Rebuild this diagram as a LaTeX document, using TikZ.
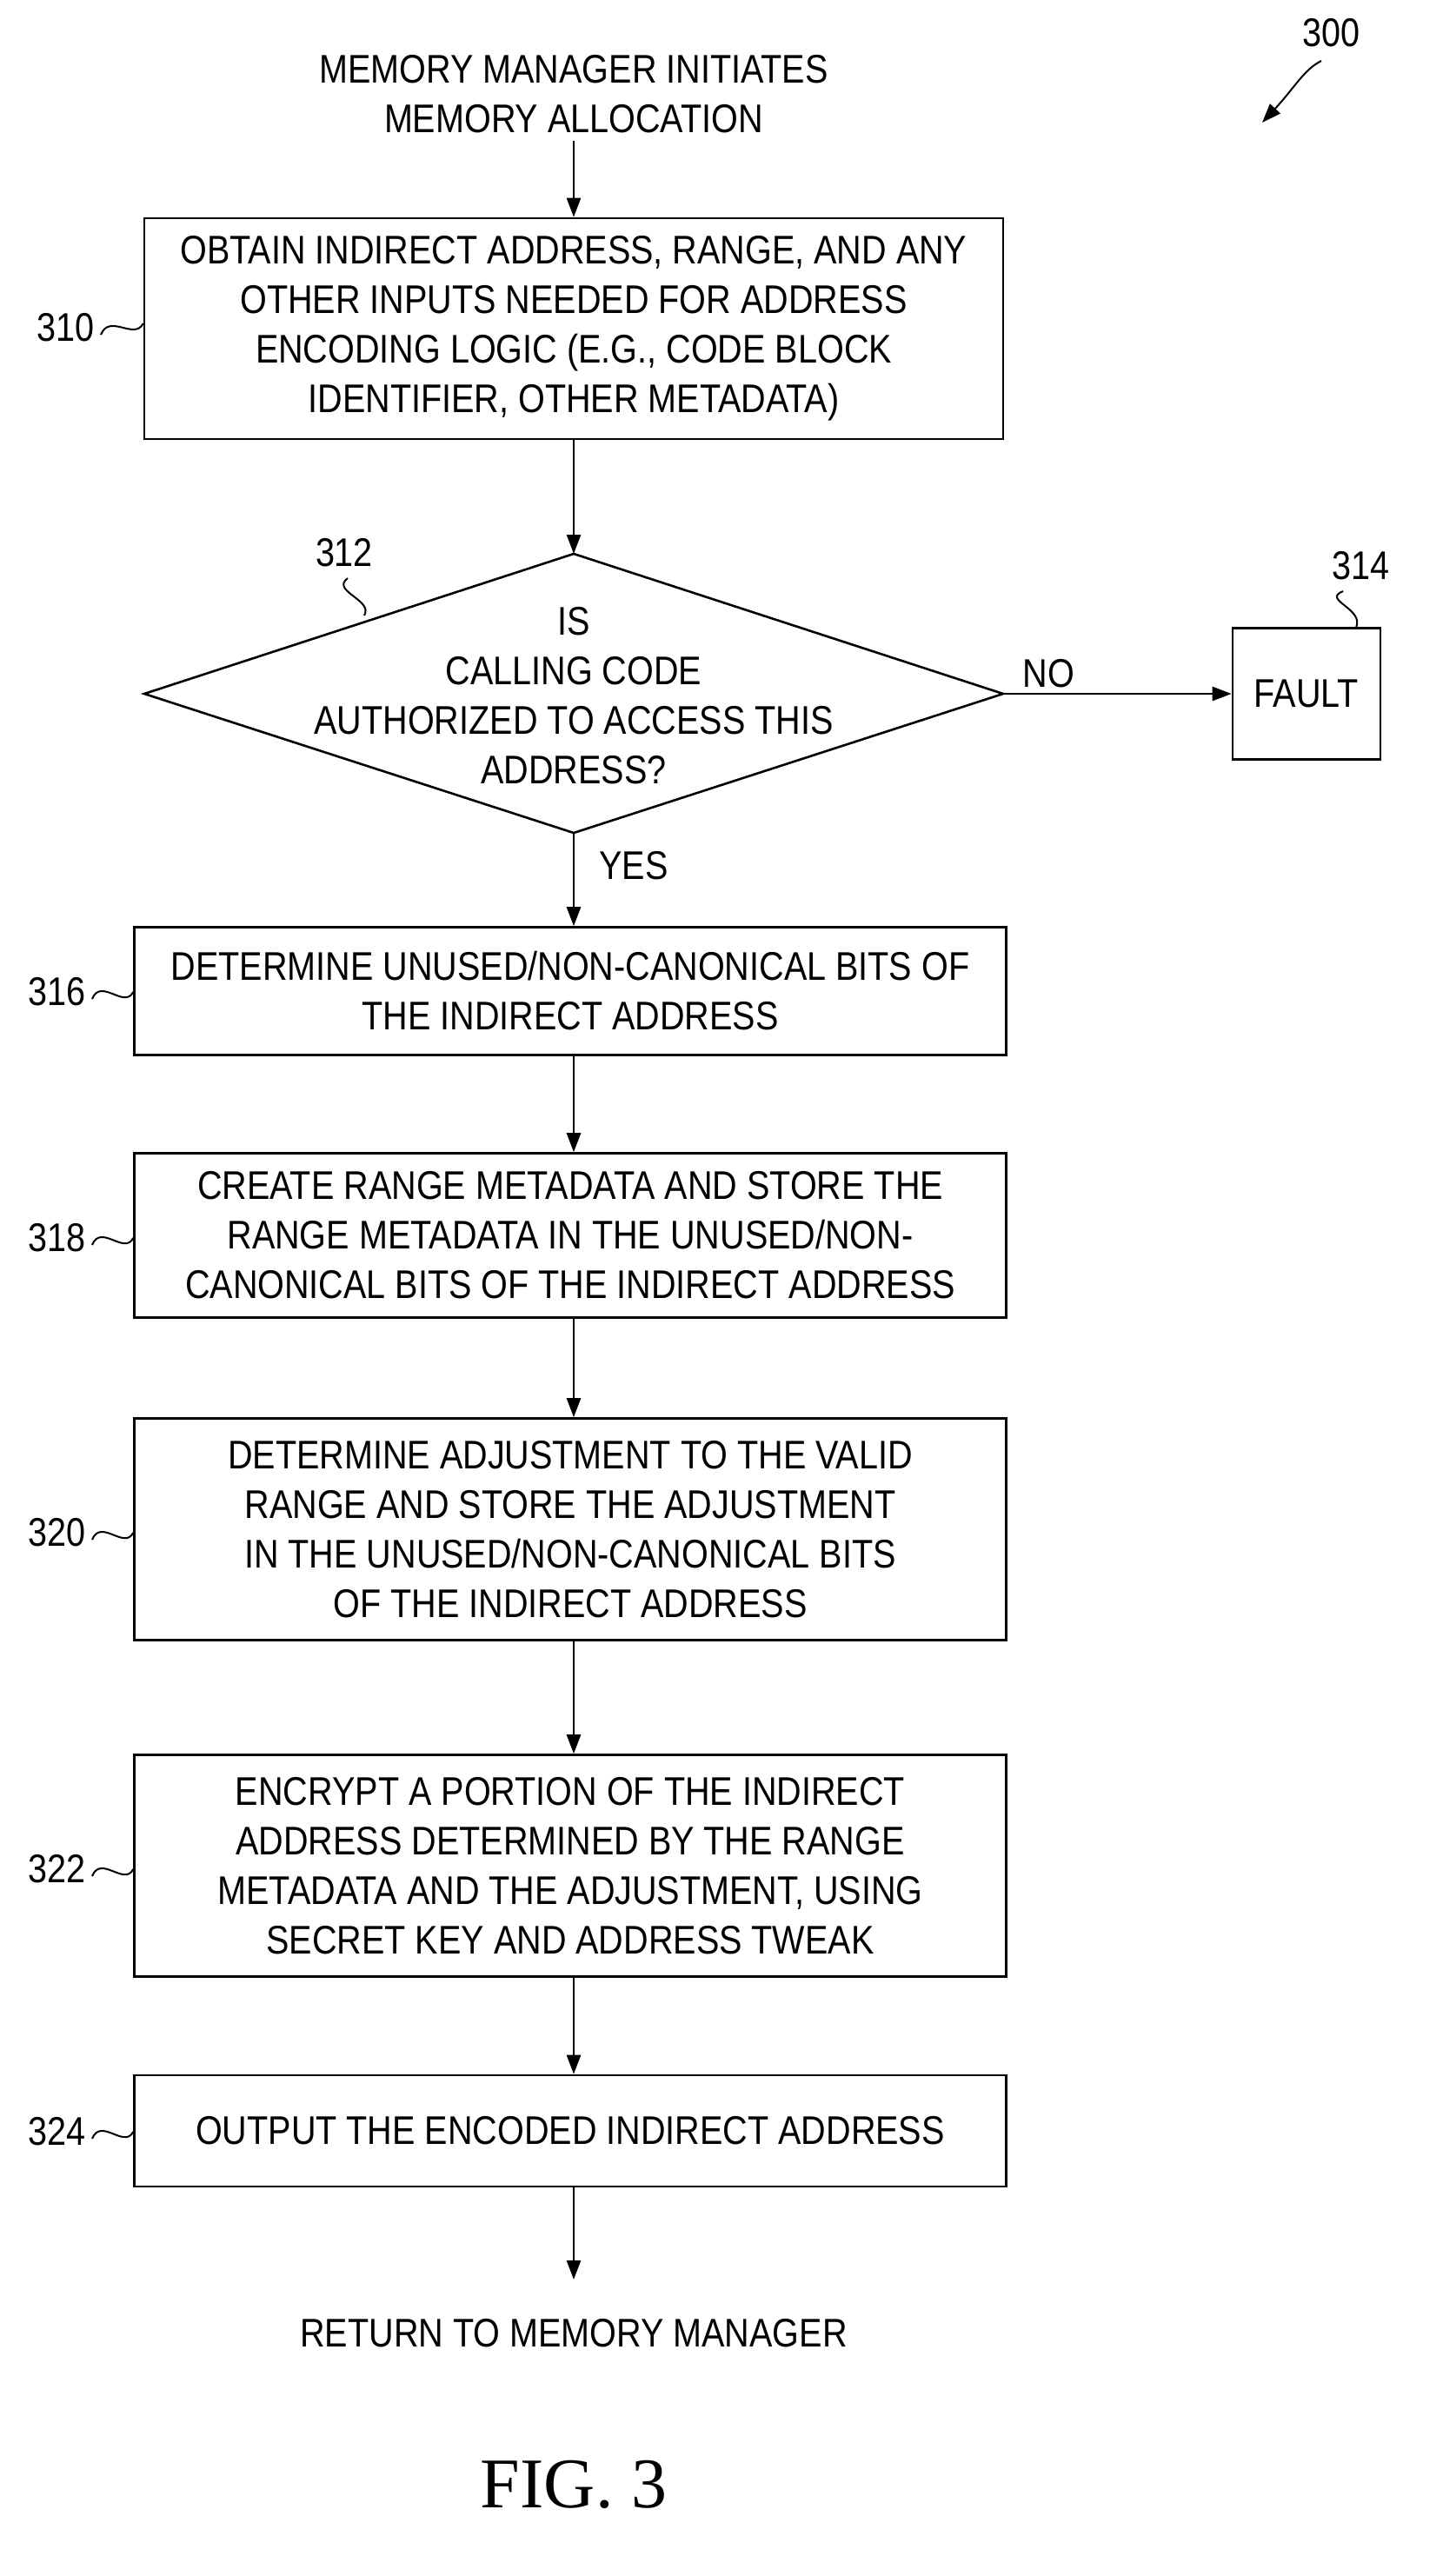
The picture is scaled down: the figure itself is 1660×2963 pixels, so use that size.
\documentclass[tikz,border=0pt]{standalone}
\usepackage{fontspec}
\setmainfont{Liberation Sans}[FakeStretch=0.86]
\newfontfamily\figfont{Liberation Serif}
\usetikzlibrary{arrows.meta}
\begin{document}
\begin{tikzpicture}[x=0.5pt,y=-0.5pt,line width=1.3pt,
  txt/.style={align=center,font=\fontsize{23}{28.5}\selectfont,inner sep=0pt},
  box/.style={draw,txt,minimum width=501.5pt},
  lbl/.style={font=\fontsize{23}{28}\selectfont,inner sep=0pt},
  arr/.style={-{Triangle[length=11pt,width=8pt]}},
  sq/.style={line width=1pt}]
\useasboundingbox (0,0) rectangle (1660,2963);
\node[txt] (start) at (660,108) {MEMORY MANAGER INITIATES\\MEMORY ALLOCATION};
\node[box,minimum width=494pt,minimum height=127pt] (b310) at (660,378) {OBTAIN INDIRECT ADDRESS, RANGE, AND ANY\\OTHER INPUTS NEEDED FOR ADDRESS\\ENCODING LOGIC (E.G., CODE BLOCK\\IDENTIFIER, OTHER METADATA)};
\coordinate (dT) at (660,637); \coordinate (dB) at (660,958);
\coordinate (dL) at (166,798); \coordinate (dR) at (1154,798);
\draw (dT) -- (dR) -- (dB) -- (dL) -- cycle;
\node[txt] (d312) at (660,800) {IS\\CALLING CODE\\AUTHORIZED TO ACCESS THIS\\ADDRESS?};
\node[box,minimum width=85pt,minimum height=75.5pt] (b314) at (1503,798) {FAULT};
\node[box,minimum height=73.5pt] (b316) at (656,1140) {DETERMINE UNUSED/NON-CANONICAL BITS OF\\THE INDIRECT ADDRESS};
\node[box,minimum height=94.5pt] (b318) at (656,1421) {CREATE RANGE METADATA AND STORE THE\\RANGE METADATA IN THE UNUSED/NON-\\CANONICAL BITS OF THE INDIRECT ADDRESS};
\node[box,minimum height=127.5pt] (b320) at (656,1759) {DETERMINE ADJUSTMENT TO THE VALID\\RANGE AND STORE THE ADJUSTMENT\\IN THE UNUSED/NON-CANONICAL BITS\\OF THE INDIRECT ADDRESS};
\node[box,minimum height=127.5pt] (b322) at (656,2146) {ENCRYPT A PORTION OF THE INDIRECT\\ADDRESS DETERMINED BY THE RANGE\\METADATA AND THE ADJUSTMENT, USING\\SECRET KEY AND ADDRESS TWEAK};
\node[box,minimum height=64pt] (b324) at (656,2451) {OUTPUT THE ENCODED INDIRECT ADDRESS};
\node[txt] (ret) at (660,2684) {RETURN TO MEMORY MANAGER};
\node[font=\figfont\fontsize{41}{46}\selectfont,inner sep=0pt] (fig) at (660,2858) {FIG. 3};
% arrows
\coordinate (a0) at (660,162);
\draw[arr] (a0) -- (b310.north -| a0);
\draw[arr] (b310.south -| dT) -- (dT);
\draw[arr] (dR) -- node[lbl,above,pos=0.2,yshift=3pt]{NO} (b314.west);
\draw[arr] (dB) -- node[lbl,right,pos=0.35,xshift=14pt]{YES} (b316.north -| dB);
\draw[arr] (b316.south -| dB) -- (b318.north -| dB);
\draw[arr] (b318.south -| dB) -- (b320.north -| dB);
\draw[arr] (b320.south -| dB) -- (b322.north -| dB);
\draw[arr] (b322.south -| dB) -- (b324.north -| dB);
\coordinate (rt) at (660,2622);
\draw[arr] (b324.south -| dB) -- (rt);
% reference labels
\node[lbl] (l300) at (1531,38) {300};
\coordinate (p300) at (1452,141);
\draw[arr,line width=1pt] (1520,70) .. controls (1500,80) and (1490,100) .. (p300);
\node[lbl,anchor=east] (l310) at (110,377) {310};
\draw[sq] (l310.east) ++(6,8) .. controls +(10,-25) and +(-10,20) .. (b310.west |- 0,372);
\foreach \n/\y/\b in {316/1141/b316,318/1424/b318,320/1763/b320,322/2150/b322,324/2452/b324}{
  \node[lbl,anchor=east] (l\n) at (100,\y) {\n};
  \draw[sq] (l\n.east) ++(6,8) .. controls +(10,-25) and +(-10,20) .. (\b.west |- 0,\y);
}
\node[lbl] (l312) at (396,636) {312};
\draw[sq] (400,665) .. controls (380,680) and (430,690) .. (419,708);
\node[lbl] (l314) at (1565,651) {314};
\draw[sq] (1545,680) .. controls (1520,690) and (1570,700) .. (1560,722);
\end{tikzpicture}
\end{document}
